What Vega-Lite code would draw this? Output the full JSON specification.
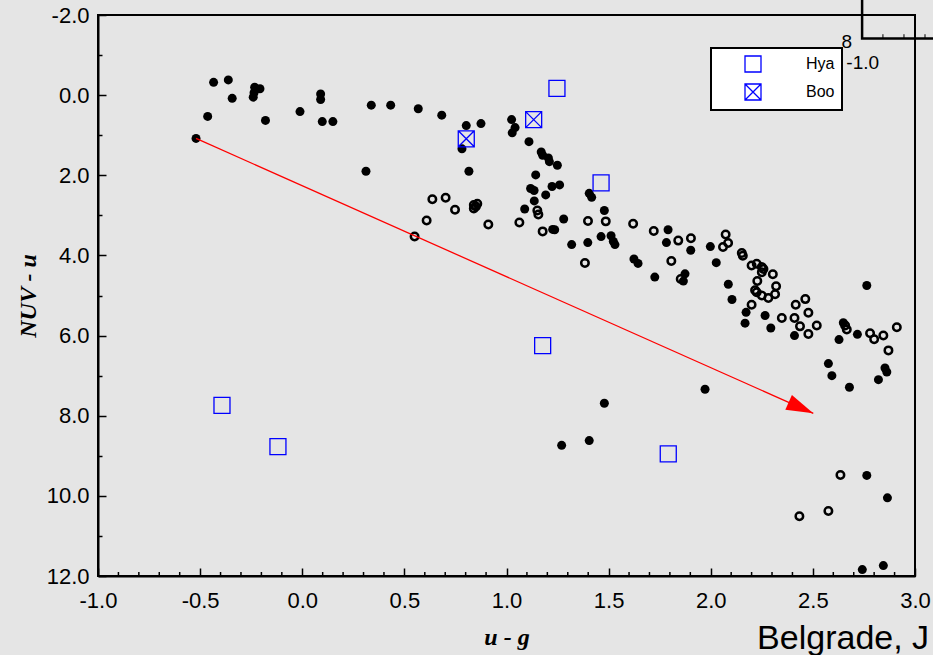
{
  "$schema": "https://vega.github.io/schema/vega-lite/v6.json",
  "width": 817,
  "height": 561,
  "autosize": {"type": "none"},
  "padding": {"left": 98, "top": 15, "right": 18, "bottom": 79},
  "background": "#e5e5e5",
  "config": {
    "view": {"stroke": "black", "strokeWidth": 2},
    "legend": {"strokeWidth": 2},
    "axis": {"labelOverlap": false, "labelBound": false}
  },
  "datasets": {
    "filled": [
      {"x": -0.52, "y": 1.08}, {"x": -0.434, "y": -0.32}, {"x": -0.362, "y": -0.38}, {"x": -0.343, "y": 0.08},
      {"x": -0.463, "y": 0.53}, {"x": -0.233, "y": -0.2}, {"x": -0.207, "y": -0.16}, {"x": -0.24, "y": 0.05},
      {"x": -0.236, "y": -0.06}, {"x": -0.18, "y": 0.63}, {"x": -0.011, "y": 0.41}, {"x": 0.09, "y": -0.03},
      {"x": 0.09, "y": 0.11}, {"x": 0.098, "y": 0.66}, {"x": 0.15, "y": 0.66}, {"x": 0.338, "y": 0.25},
      {"x": 0.433, "y": 0.25}, {"x": 0.568, "y": 0.34}, {"x": 0.683, "y": 0.5}, {"x": 0.803, "y": 0.76},
      {"x": 0.875, "y": 0.71}, {"x": 0.782, "y": 1.34}, {"x": 0.816, "y": 1.9}, {"x": 0.312, "y": 1.9},
      {"x": 1.025, "y": 0.61}, {"x": 1.042, "y": 0.81}, {"x": 1.028, "y": 0.94}, {"x": 1.11, "y": 1.16},
      {"x": 1.17, "y": 1.42}, {"x": 1.177, "y": 1.5}, {"x": 1.205, "y": 1.57}, {"x": 1.21, "y": 1.66},
      {"x": 1.249, "y": 1.75}, {"x": 1.143, "y": 1.99}, {"x": 1.118, "y": 2.33}, {"x": 1.135, "y": 2.38},
      {"x": 1.223, "y": 2.28}, {"x": 1.26, "y": 2.24}, {"x": 1.192, "y": 2.49}, {"x": 1.136, "y": 2.64},
      {"x": 1.089, "y": 2.84}, {"x": 1.405, "y": 2.45}, {"x": 1.417, "y": 2.55}, {"x": 1.479, "y": 2.88},
      {"x": 1.28, "y": 3.09}, {"x": 1.226, "y": 3.35}, {"x": 1.236, "y": 3.36}, {"x": 1.319, "y": 3.73},
      {"x": 1.398, "y": 3.68}, {"x": 1.463, "y": 3.53}, {"x": 1.512, "y": 3.51}, {"x": 1.523, "y": 3.65},
      {"x": 1.531, "y": 3.73}, {"x": 1.791, "y": 3.36}, {"x": 1.783, "y": 3.68}, {"x": 1.902, "y": 3.87},
      {"x": 1.624, "y": 4.09}, {"x": 1.644, "y": 4.2}, {"x": 1.726, "y": 4.54}, {"x": 1.874, "y": 4.46},
      {"x": 1.866, "y": 4.64}, {"x": 1.998, "y": 3.78}, {"x": 2.027, "y": 4.18}, {"x": 2.086, "y": 4.72},
      {"x": 2.104, "y": 5.1}, {"x": 2.173, "y": 5.42}, {"x": 2.168, "y": 5.69}, {"x": 2.266, "y": 5.5},
      {"x": 2.294, "y": 5.81}, {"x": 2.41, "y": 6.0}, {"x": 2.764, "y": 4.75}, {"x": 2.649, "y": 5.68},
      {"x": 2.628, "y": 6.1}, {"x": 2.718, "y": 5.97}, {"x": 2.576, "y": 6.7}, {"x": 2.593, "y": 7.0},
      {"x": 2.853, "y": 6.81}, {"x": 2.862, "y": 6.91}, {"x": 2.821, "y": 7.1}, {"x": 2.679, "y": 7.29},
      {"x": 1.479, "y": 7.69}, {"x": 1.27, "y": 8.74}, {"x": 1.405, "y": 8.62}, {"x": 1.972, "y": 7.34},
      {"x": 2.764, "y": 9.49}, {"x": 2.865, "y": 10.05}, {"x": 2.742, "y": 11.84}, {"x": 2.845, "y": 11.74}
    ],
    "open": [
      {"x": 0.637, "y": 2.6}, {"x": 0.702, "y": 2.56}, {"x": 0.748, "y": 2.86}, {"x": 0.609, "y": 3.13},
      {"x": 0.55, "y": 3.53}, {"x": 0.84, "y": 2.74}, {"x": 0.857, "y": 2.71}, {"x": 0.84, "y": 2.83},
      {"x": 0.85, "y": 2.78}, {"x": 0.911, "y": 3.23}, {"x": 1.063, "y": 3.18}, {"x": 1.151, "y": 2.88},
      {"x": 1.156, "y": 2.98}, {"x": 1.177, "y": 3.4}, {"x": 1.399, "y": 3.14}, {"x": 1.486, "y": 3.15},
      {"x": 1.384, "y": 4.19}, {"x": 1.62, "y": 3.21}, {"x": 1.721, "y": 3.39}, {"x": 1.841, "y": 3.63},
      {"x": 1.903, "y": 3.57}, {"x": 1.807, "y": 4.14}, {"x": 1.853, "y": 4.59}, {"x": 2.073, "y": 3.48},
      {"x": 2.06, "y": 3.79}, {"x": 2.085, "y": 3.69}, {"x": 2.152, "y": 3.94}, {"x": 2.157, "y": 4.01},
      {"x": 2.2, "y": 4.25}, {"x": 2.225, "y": 4.21}, {"x": 2.25, "y": 4.29}, {"x": 2.25, "y": 4.42},
      {"x": 2.258, "y": 4.34}, {"x": 2.304, "y": 4.47}, {"x": 2.228, "y": 4.64}, {"x": 2.32, "y": 4.77},
      {"x": 2.217, "y": 4.87}, {"x": 2.225, "y": 4.92}, {"x": 2.25, "y": 5.0}, {"x": 2.282, "y": 5.06},
      {"x": 2.315, "y": 4.97}, {"x": 2.2, "y": 5.23}, {"x": 2.348, "y": 5.56}, {"x": 2.41, "y": 5.56},
      {"x": 2.416, "y": 5.23}, {"x": 2.463, "y": 5.09}, {"x": 2.478, "y": 5.43}, {"x": 2.437, "y": 5.77},
      {"x": 2.478, "y": 5.96}, {"x": 2.519, "y": 5.75}, {"x": 2.658, "y": 5.75}, {"x": 2.666, "y": 5.85},
      {"x": 2.78, "y": 5.94}, {"x": 2.8, "y": 6.09}, {"x": 2.845, "y": 6.0}, {"x": 2.911, "y": 5.79},
      {"x": 2.87, "y": 6.37}, {"x": 2.635, "y": 9.48}, {"x": 2.576, "y": 10.38}, {"x": 2.434, "y": 10.51}
    ],
    "groups": [
      {"x": 1.247, "y": -0.17, "g": "Hya"}, {"x": 1.463, "y": 2.19, "g": "Hya"}, {"x": 1.177, "y": 6.25, "g": "Hya"},
      {"x": 1.792, "y": 8.95, "g": "Hya"}, {"x": -0.393, "y": 7.74, "g": "Hya"}, {"x": -0.119, "y": 8.77, "g": "Hya"},
      {"x": 0.803, "y": 1.09, "g": "Boo"}, {"x": 1.133, "y": 0.61, "g": "Boo"}
    ],
    "minorX": [
      {"x": -0.9}, {"x": -0.8}, {"x": -0.7}, {"x": -0.6}, {"x": -0.4}, {"x": -0.3}, {"x": -0.2}, {"x": -0.1},
      {"x": 0.1}, {"x": 0.2}, {"x": 0.3}, {"x": 0.4}, {"x": 0.6}, {"x": 0.7}, {"x": 0.8}, {"x": 0.9},
      {"x": 1.1}, {"x": 1.2}, {"x": 1.3}, {"x": 1.4}, {"x": 1.6}, {"x": 1.7}, {"x": 1.8}, {"x": 1.9},
      {"x": 2.1}, {"x": 2.2}, {"x": 2.3}, {"x": 2.4}, {"x": 2.6}, {"x": 2.7}, {"x": 2.8}, {"x": 2.9}
    ],
    "arrow": [{"x": -0.52, "y": 1.08}, {"x": 2.502, "y": 7.94}],
    "arrowhead": [{"x": 2.502, "y": 7.94}],
    "inset": [{"x": 2.741, "x2": 3.3, "y": -2.6, "y2": -1.415}],
    "insetTicks": [{"x": 2.843, "y": -1.415, "y2": -1.52}, {"x": 2.946, "y": -1.415, "y2": -1.52}, {"x": 3.049, "y": -1.415, "y2": -1.52}],
    "insetLabels": [{"x": 2.666, "y": -1.315, "t": "8"}],
    "insetLabels2": [{"x": 2.664, "y": -0.79, "t": "-1.0"}],
    "footer": [{"x": 2.227, "y": 13.81, "t": "Belgrade, J"}]
  },
  "layer": [
    {
      "data": {"name": "open"},
      "mark": {"type": "point", "shape": "circle", "filled": false, "stroke": "black", "strokeWidth": 2.5, "size": 56, "opacity": 1},
      "encoding": {
        "x": {
          "field": "x", "type": "quantitative",
          "scale": {"domain": [-1, 3], "nice": false, "zero": false},
          "axis": {
            "title": "u - g",
            "titleFont": "Liberation Serif", "titleFontStyle": "italic", "titleFontWeight": "bold", "titleFontSize": 24, "titleColor": "black",
            "titlePadding": 14,
            "values": [-1, -0.5, 0, 0.5, 1, 1.5, 2, 2.5, 3],
            "labelExpr": "(datum.value < -0.0001 ? '-' : '') + format(abs(datum.value), '.1f')",
            "labelFont": "Liberation Sans", "labelFontSize": 22, "labelColor": "black",
            "labelOverlap": false, "labelFlush": false, "labelPadding": 22,
            "tickColor": "black", "tickWidth": 1.5, "tickSize": -8,
            "domain": true, "domainColor": "black", "domainWidth": 2, "grid": false
          }
        },
        "y": {
          "field": "y", "type": "quantitative",
          "scale": {"domain": [-2, 12], "nice": false, "zero": false, "reverse": true},
          "axis": {
            "title": "NUV - u",
            "titleFont": "Liberation Serif", "titleFontStyle": "italic", "titleFontWeight": "bold", "titleFontSize": 24, "titleColor": "black",
            "titlePadding": 6,
            "values": [-2,-1,0,1,2,3,4,5,6,7,8,9,10,11,12],
            "labelExpr": "abs(datum.value % 2) < 0.001 ? (datum.value < 0 ? '-' : '') + format(abs(datum.value), '.1f') : ''",
            "labelFont": "Liberation Sans", "labelFontSize": 22, "labelColor": "black",
            "labelOverlap": false, "labelFlush": false, "labelPadding": 17,
            "tickColor": "black", "tickWidth": 1.5,
            "tickSize": {"condition": {"test": "abs(datum.value % 2) < 0.001", "value": -8}, "value": -4},
            "domain": true, "domainColor": "black", "domainWidth": 2, "grid": false
          }
        }
      }
    },
    {
      "data": {"name": "minorX"},
      "mark": {"type": "rule", "color": "black", "strokeWidth": 1.5},
      "encoding": {
        "x": {"field": "x", "type": "quantitative"},
        "y": {"datum": 12},
        "y2": {"datum": 11.9}
      }
    },
    {
      "data": {"name": "filled"},
      "mark": {"type": "point", "shape": "circle", "filled": true, "fill": "black", "size": 81, "opacity": 1},
      "encoding": {
        "x": {"field": "x", "type": "quantitative"},
        "y": {"field": "y", "type": "quantitative"}
      }
    },
    {
      "data": {"name": "arrow"},
      "mark": {"type": "line", "color": "#ff0000", "strokeWidth": 1.3},
      "encoding": {
        "x": {"field": "x", "type": "quantitative"},
        "y": {"field": "y", "type": "quantitative"}
      }
    },
    {
      "data": {"name": "arrowhead"},
      "mark": {"type": "point", "shape": "M0,0L-2,-0.6L-2,0.6Z", "filled": true, "fill": "#ff0000", "size": 729, "angle": 24, "opacity": 1},
      "encoding": {
        "x": {"field": "x", "type": "quantitative"},
        "y": {"field": "y", "type": "quantitative"}
      }
    },
    {
      "data": {"name": "groups"},
      "mark": {"type": "point", "filled": false, "stroke": "#0000ff", "strokeWidth": 1.3, "size": 256, "opacity": 1},
      "encoding": {
        "x": {"field": "x", "type": "quantitative"},
        "y": {"field": "y", "type": "quantitative"},
        "shape": {
          "field": "g", "type": "nominal",
          "scale": {"domain": ["Hya", "Boo"], "range": ["square", "M-1,-1H1V1H-1ZM-1,-1L1,1M1,-1L-1,1"]},
          "legend": {
            "title": null, "orient": "none", "legendX": 613, "legendY": 33,
            "padding": 7, "symbolOffset": 26, "labelOffset": 44,
            "symbolSize": 256, "symbolStrokeWidth": 1.3, "symbolStrokeColor": "#0000ff", "symbolFillColor": "transparent",
            "labelFont": "Liberation Sans", "labelFontSize": 16, "labelColor": "black",
            "rowPadding": 6, "fillColor": "white", "strokeColor": "black"
          }
        }
      }
    },
    {
      "data": {"name": "inset"},
      "mark": {"type": "rect", "fill": null, "fillOpacity": 0, "stroke": "black", "strokeWidth": 2.5},
      "encoding": {
        "x": {"field": "x", "type": "quantitative"},
        "x2": {"field": "x2"},
        "y": {"field": "y", "type": "quantitative"},
        "y2": {"field": "y2"}
      }
    },
    {
      "data": {"name": "insetTicks"},
      "mark": {"type": "rule", "color": "black", "strokeWidth": 1},
      "encoding": {
        "x": {"field": "x", "type": "quantitative"},
        "y": {"field": "y", "type": "quantitative"},
        "y2": {"field": "y2"}
      }
    },
    {
      "data": {"name": "insetLabels"},
      "mark": {"type": "text", "font": "Liberation Sans", "fontSize": 19, "color": "black", "align": "center", "baseline": "middle"},
      "encoding": {
        "x": {"field": "x", "type": "quantitative"},
        "y": {"field": "y", "type": "quantitative"},
        "text": {"field": "t"}
      }
    },
    {
      "data": {"name": "insetLabels2"},
      "mark": {"type": "text", "font": "Liberation Sans", "fontSize": 19, "color": "black", "align": "left", "baseline": "middle"},
      "encoding": {
        "x": {"field": "x", "type": "quantitative"},
        "y": {"field": "y", "type": "quantitative"},
        "text": {"field": "t"}
      }
    },
    {
      "data": {"name": "footer"},
      "mark": {"type": "text", "font": "Liberation Sans", "fontSize": 34, "color": "black", "align": "left", "baseline": "alphabetic"},
      "encoding": {
        "x": {"field": "x", "type": "quantitative"},
        "y": {"field": "y", "type": "quantitative"},
        "text": {"field": "t"}
      }
    }
  ]
}
